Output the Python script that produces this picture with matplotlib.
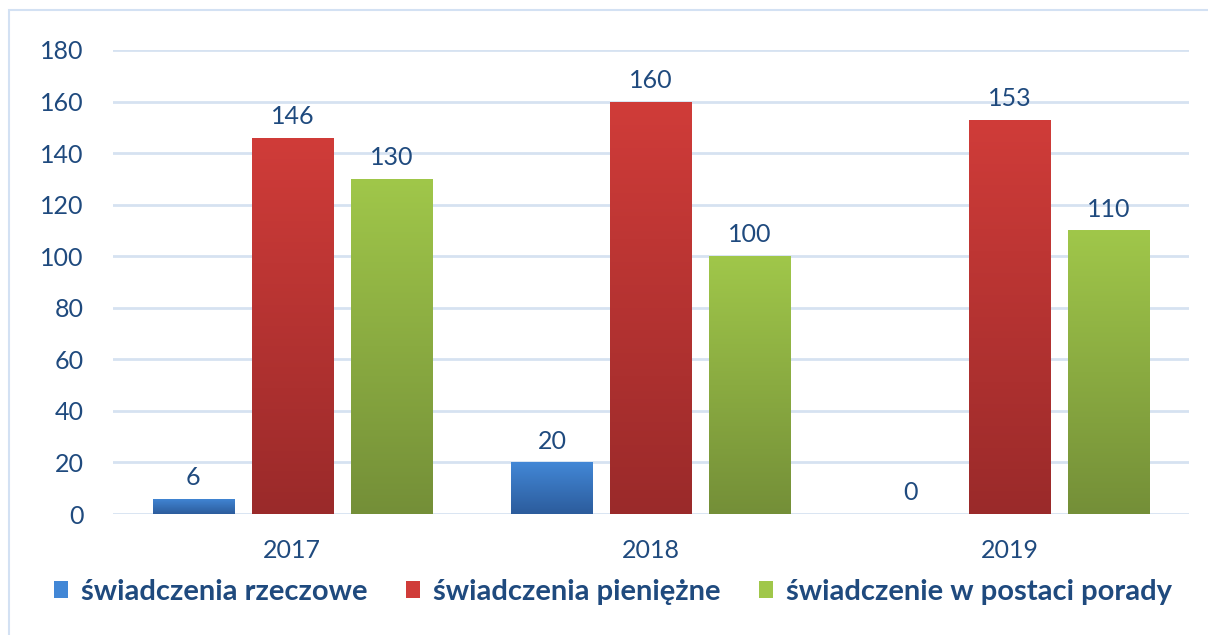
import matplotlib.pyplot as plt
import numpy as np
from matplotlib.patches import Rectangle
from matplotlib.colors import LinearSegmentedColormap

years = ["2017", "2018", "2019"]
series_names = ["świadczenia rzeczowe", "świadczenia pieniężne", "świadczenie w postaci porady"]
rzeczowe = [6, 20, 0]
pieniezne = [146, 160, 153]
porady = [130, 100, 110]

# gradient colours: (top, bottom)
grads = [("#4287d6", "#2c5c9c"), ("#d03c39", "#9a2a2a"), ("#a0c74a", "#748f38")]
text_col = "#1f4a7e"
grid_col = "#d6e2f1"

plt.rcParams['font.family'] = ['Lato', 'DejaVu Sans']

fig = plt.figure(figsize=(12.08, 6.35), dpi=100)
ax = fig.add_axes([113/1208, 121/635, 1076/1208, 464/635])

# light frame around the chart
fig.patches.append(Rectangle((9/1208, -0.1), 1.2, (625/635) + 0.1, transform=fig.transFigure,
                             fill=False, edgecolor="#d3e1f3", linewidth=1.5))

x = np.arange(len(years))
width = 0.226
step = 0.276
all_series = [rzeczowe, pieniezne, porady]

for i, (vals, (top, bot)) in enumerate(zip(all_series, grads)):
    cmap = LinearSegmentedColormap.from_list("g%d" % i, [bot, top])
    pos = x + (i - 1) * step
    bars = ax.bar(pos, vals, width, color=top, zorder=3, label=series_names[i])
    for b, v in zip(bars, vals):
        if v > 0:
            grad = np.linspace(0, 1, 256).reshape(-1, 1)
            im = ax.imshow(grad, cmap=cmap, origin="lower", aspect="auto",
                           extent=(b.get_x(), b.get_x() + width, 0, v), zorder=4)
            im.set_clip_path(b)
        ax.annotate(str(v), (b.get_x() + width / 2, v), xytext=(0, 7),
                    textcoords="offset points", ha="center", va="bottom",
                    fontsize=18, color=text_col)

ax.set_xlim(-0.5, 2.5)
ax.set_ylim(0, 180)
ax.set_yticks(range(0, 181, 20))
ax.set_xticks(x)
ax.set_xticklabels(years)
ax.tick_params(axis="both", length=0, labelsize=18, labelcolor=text_col)
ax.tick_params(axis="y", pad=21)
ax.tick_params(axis="x", pad=18)
ax.yaxis.grid(True, color=grid_col, linewidth=2, zorder=0)
ax.set_axisbelow(True)
for s in ax.spines.values():
    s.set_visible(False)

leg = fig.legend(*ax.get_legend_handles_labels(), loc="center",
                 bbox_to_anchor=(613/1208, 43/635), bbox_transform=fig.transFigure,
                 ncol=3, frameon=False, borderaxespad=0, borderpad=0,
                 prop={"weight": "bold", "size": 21}, handlelength=0.5, handleheight=0.5,
                 handletextpad=0.45, columnspacing=1.3)
for t in leg.get_texts():
    t.set_color(text_col)

fig.savefig("out.png", dpi=100)
